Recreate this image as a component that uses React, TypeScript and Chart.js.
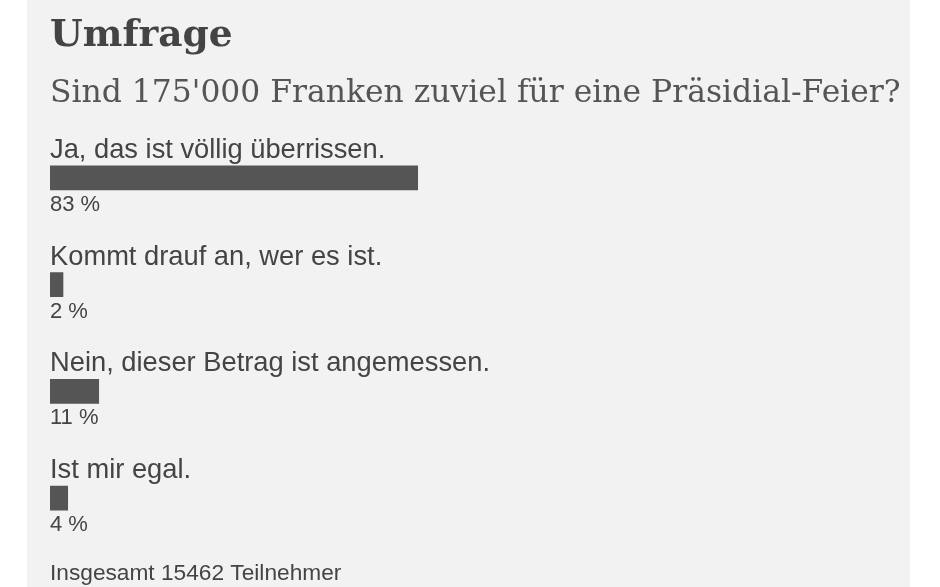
import React, { useEffect, useRef } from "react";
import { Chart, registerables } from "chart.js";

Chart.register(...registerables);

const titleText = "Umfrage";
const questionText = "Sind 175'000 Franken zuviel für eine Präsidial-Feier?";
const answers = [
  "Ja, das ist völlig überrissen.",
  "Kommt drauf an, wer es ist.",
  "Nein, dieser Betrag ist angemessen.",
  "Ist mir egal.",
];
const percents = [83, 2, 11, 4];
const percentLabels = ["83 %", "2 %", "11 %", "4 %"];
const footerText = "Insgesamt 15462 Teilnehmer";

const textPlugin = {
  id: "pollText",
  afterDatasetsDraw(chart: any) {
    const ctx = chart.ctx as CanvasRenderingContext2D;
    const left = chart.chartArea.left;
    ctx.save();
    ctx.textAlign = "left";
    ctx.textBaseline = "alphabetic";

    ctx.fillStyle = "#444444";
    ctx.font = "bold 37.5px 'DejaVu Serif'";
    ctx.fillText(titleText, left, 46);

    ctx.fillStyle = "#555555";
    ctx.font = "31.4px 'DejaVu Serif'";
    ctx.fillText(questionText, left, 102);

    const meta = chart.getDatasetMeta(0);
    meta.data.forEach((bar: any, i: number) => {
      const half = bar.height / 2;
      ctx.fillStyle = "#444444";
      ctx.font = "27.3px 'Liberation Sans'";
      ctx.fillText(answers[i], left, bar.y - half - 8);
      ctx.font = "22px 'Liberation Sans'";
      ctx.fillText(percentLabels[i], left, bar.y + half + 21);
    });

    ctx.font = "22.7px 'Liberation Sans'";
    ctx.fillStyle = "#444444";
    ctx.fillText(footerText, left, 580);
    ctx.restore();
  },
};

export default function App() {
  const canvasRef = useRef<HTMLCanvasElement | null>(null);

  useEffect(() => {
    if (!canvasRef.current) return;
    const chart = new Chart(canvasRef.current, {
      type: "bar",
      data: {
        labels: answers,
        datasets: [
          {
            data: percents,
            backgroundColor: "#555555",
            borderWidth: 0,
            barThickness: 24,
            minBarLength: 13,
          },
        ],
      },
      options: {
        indexAxis: "y",
        responsive: false,
        animation: false,
        devicePixelRatio: 1,
        layout: {
          padding: { left: 50, right: 447, top: 124.6, bottom: 35.6 },
        },
        scales: {
          x: { display: false, min: 0, max: 100 },
          y: { display: false },
        },
        plugins: {
          legend: { display: false },
          tooltip: { enabled: false },
          title: { display: false },
        },
      },
      plugins: [textPlugin],
    });
    return () => chart.destroy();
  }, []);

  return (
    <div
      style={{
        position: "absolute",
        left: 0,
        top: 0,
        width: 940,
        height: 587,
        background: "#ffffff",
        overflow: "hidden",
      }}
    >
      <div
        style={{
          position: "absolute",
          left: 27,
          top: 0,
          width: 883,
          height: 587,
          background: "#f2f2f2",
        }}
      />
      <canvas
        ref={canvasRef}
        width={940}
        height={587}
        style={{ position: "absolute", left: 0, top: 0, width: 940, height: 587 }}
      />
    </div>
  );
}
